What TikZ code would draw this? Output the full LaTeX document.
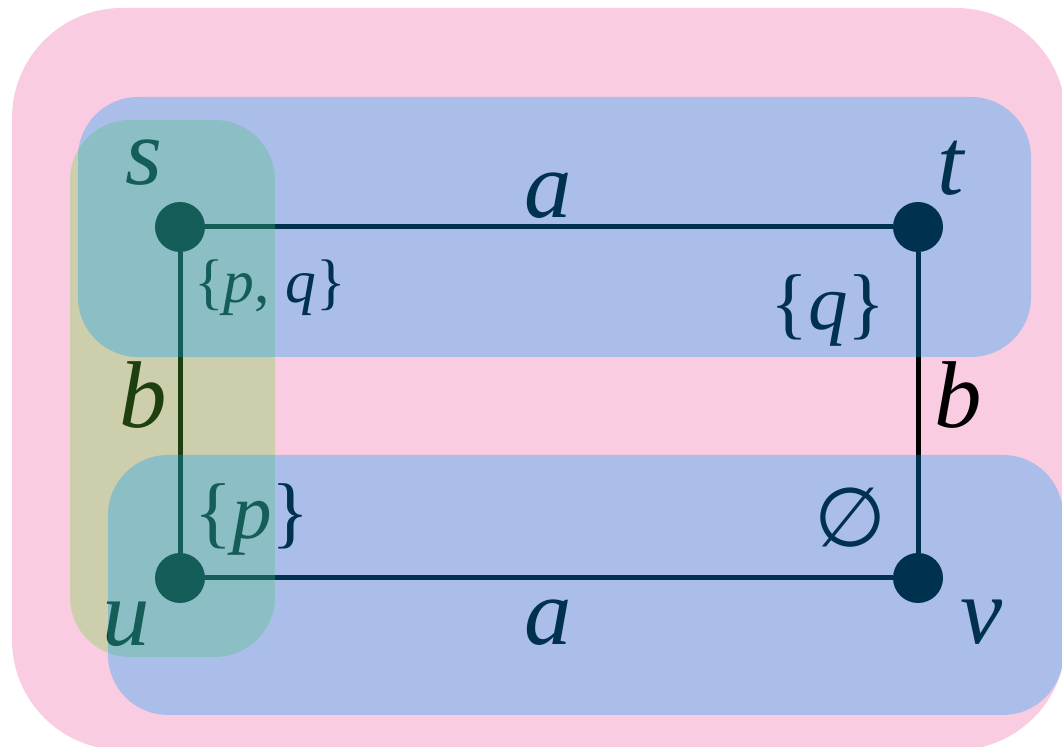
\documentclass[tikz,border=0pt]{standalone}
\usepackage{fontspec}
\setmainfont{Liberation Serif}
\newfontfamily\symbfont{DejaVu Sans}
\definecolor{blush}{HTML}{F9CCE1}
\definecolor{leaf}{RGB}{102,212,51}
\definecolor{sky}{RGB}{0,160,255}
\tikzset{
  vtx/.style={circle,fill=black,minimum size=10mm,inner sep=0pt},
  edge/.style={draw=black,line width=1mm},
  lbl/.style={anchor=base,inner sep=0pt,font=\fontsize{54}{60}\selectfont\itshape},
  setlbl/.style={inner sep=0pt,font=\fontsize{45}{50}\selectfont},
  blob/.style={fill opacity=.3,rounded corners=12mm},
}

\begin{document}
\begin{tikzpicture}[x=1mm,y=1mm]
  \useasboundingbox (0,0) rectangle (212.4,149.4);
  \fill[blush,rounded corners=22mm] (2.4,-0.6) rectangle (213.2,147.8);
  % the square graph
  \foreach \n/\x/\y in {s/36/104,t/183.6/104,u/36/33.8,v/183.6/33.8} {
    \node[vtx] (\n) at (\x,\y) {};
  }
  \draw[edge] (s) -- (t) -- (v) -- (u) -- (s);
  \node[lbl] (ls) at (28.7,112.4) {s};
  \node[lbl] (lt) at (190.2,110.4) {t};
  \node[lbl] (lu) at (25.2,20.3) {u};
  \node[lbl] (lv) at (196.3,20.7) {v};
  \node[lbl] (ea) at (109.6,105.8) {a};
  \node[lbl] (eb) at (109.6,20.4) {a};
  \node[lbl] (fl) at (28.6,63.8) {b};
  \node[lbl] (fr) at (191.6,63.8) {b};
  \node[setlbl,font=\fontsize{35}{40}\selectfont] (ps) at (54,91.8) {\{\textit{p}, \textit{q}\}};
  \node[setlbl] (pt) at (165.6,87.4) {\{\textit{q}\}};
  \node[setlbl] (pu) at (50.4,45.6) {\{\textit{p}\}};
  \node[setlbl,font=\fontsize{47}{52}\selectfont\symbfont] (pv) at (170,45.8) {∅};
  % translucent sets on top
  \fill[blob,leaf] (14,18) rectangle (55,125.4);
  \fill[blob,sky,fill opacity=.31] (15.6,78) rectangle (206.2,130);
  \fill[blob,sky,fill opacity=.31] (21.6,6.4) rectangle (212.6,58.4);
\end{tikzpicture}
\end{document}
